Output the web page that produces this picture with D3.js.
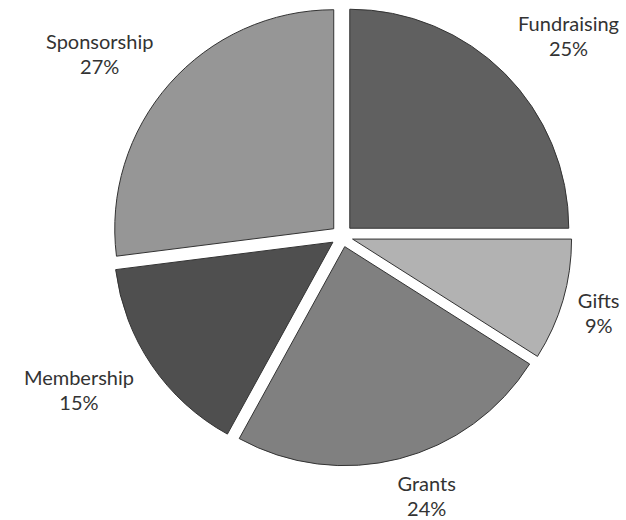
<!DOCTYPE html>
<html>
<head>
<meta charset="utf-8">
<script src="https://cdn.jsdelivr.net/npm/d3@7"></script>
<style>
  html, body { margin: 0; padding: 0; background: #fff; }
  svg { display: block; }
</style>
</head>
<body>
<div id="chart"></div>
<script>
// chart data
const categories = ['Fundraising', 'Gifts', 'Grants', 'Membership', 'Sponsorship'];
const shares = [25, 9, 24, 15, 27];
const pctLabels = ['25%', '9%', '24%', '15%', '27%'];
const sliceColors = ['#606060', '#b2b2b2', '#808080', '#4f4f4f', '#969696'];

const width = 626, height = 520;
const cx = 342, cy = 236;
const radius = 219;
const explode = 11;
// label placement: [angle in degrees clockwise from 12 o'clock, distance from centre]
const labelPlace = [[48.6, 302], [106.7, 268], [162, 274], [239.6, 305], [306.9, 303]];

const svg = d3.select('#chart').append('svg')
    .attr('width', width)
    .attr('height', height);

const pie = d3.pie().sort(null).value(d => d)(shares);
const arc = d3.arc().innerRadius(0).outerRadius(radius);

const g = svg.append('g').attr('transform', `translate(${cx},${cy})`);

g.selectAll('path.slice')
    .data(pie)
    .join('path')
    .attr('class', 'slice')
    .attr('transform', d => {
        const mid = (d.startAngle + d.endAngle) / 2;
        return `translate(${Math.sin(mid) * explode},${-Math.cos(mid) * explode})`;
    })
    .attr('d', arc)
    .attr('fill', (d, i) => sliceColors[i])
    .attr('stroke', '#333')
    .attr('stroke-width', 1);

const labels = g.selectAll('text.lbl')
    .data(pie)
    .join('text')
    .attr('class', 'lbl')
    .attr('text-anchor', 'middle')
    .style('font-family', 'Lato, "Open Sans", sans-serif')
    .style('font-size', '20px')
    .attr('fill', '#333')
    .attr('transform', (d, i) => {
        const a = labelPlace[i][0] * Math.PI / 180;
        const r = labelPlace[i][1];
        return `translate(${Math.sin(a) * r},${-Math.cos(a) * r})`;
    });

labels.append('tspan').attr('x', 0).attr('y', -5.5).text((d, i) => categories[i]);
labels.append('tspan').attr('x', 0).attr('y', 19.5).text((d, i) => pctLabels[i]);
</script>
</body>
</html>
